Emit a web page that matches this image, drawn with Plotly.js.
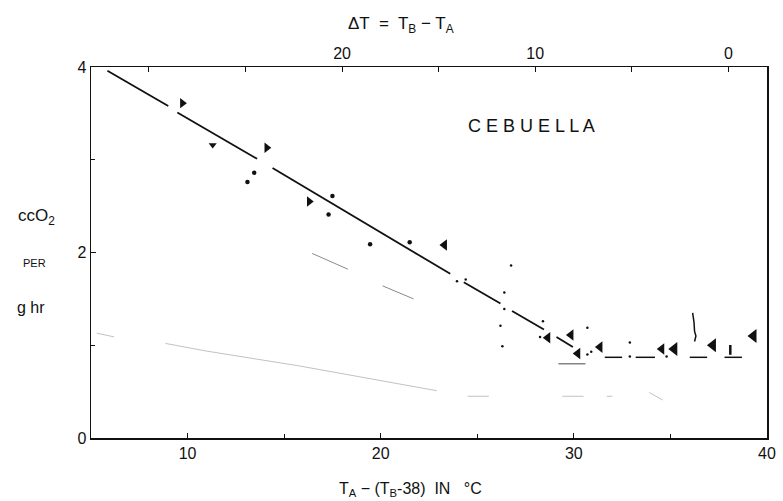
<!DOCTYPE html>
<html>
<head>
<meta charset="utf-8">
<script src="https://cdn.plot.ly/plotly-3.0.1.min.js"></script>
<style>html,body{margin:0;padding:0;background:#fff;}#chart{width:783px;height:501px;}</style>
</head>
<body>
<div id="chart"></div>
<script>
// Regression line (solid, with gaps in the original drawing)
const fitX = [5.85, 9.0, null, 9.47, 13.6, null, 14.4, 23.6, null, 24.3, 26.2, null, 26.8, 28.45, null, 29.1, 29.95];
const fitY = [3.96, 3.58, null, 3.51, 3.01, null, 2.91, 1.77, null, 1.68, 1.45, null, 1.37, 1.17, null, 1.09, 0.98];

// Horizontal dashed line (thermoneutral level)
const flatX = [31.6, 32.5, null, 33.2, 34.2, null, 36.0, 36.9, null, 37.8, 38.7];
const flatY = [0.87, 0.87, null, 0.87, 0.87, null, 0.87, 0.87, null, 0.87, 0.87];
const lowBarX = [29.2, 30.6];
const lowBarY = [0.80, 0.80];

// Faint grey lines (other curves, barely visible in the scan)
const greyUpX = [16.45, 18.3, null, 20.1, 21.7];
const greyUpY = [1.99, 1.82, null, 1.64, 1.50];
const greyLowX = [5.3, 6.2, null, 8.85, 10.9, 13.6, 15.7, 18.9, 21.0, 22.9, null, 24.5, 25.6, null, 29.4, 30.5, null, 31.7, 32.0, null, 33.9, 34.6];
const greyLowY = [1.13, 1.09, null, 1.02, 0.94, 0.85, 0.78, 0.66, 0.58, 0.51, null, 0.45, 0.45, null, 0.45, 0.45, null, 0.45, 0.45, null, 0.49, 0.41];

// Data points
const triRightX = [9.73, 14.1, 16.3];
const triRightY = [3.61, 3.13, 2.55];
const triLeftX = [23.3, 28.65, 29.85, 30.2, 31.35, 34.55];
const triLeftY = [2.08, 1.08, 1.11, 0.91, 0.98, 0.96];
const blobX = [35.2, 37.2, 39.3];
const blobY = [0.96, 1.00, 1.10];
const dotX = [13.45, 13.1, 17.5, 17.3, 19.45, 21.5];
const dotY = [2.86, 2.76, 2.61, 2.41, 2.09, 2.11];
const tinyX = [23.95, 24.4, 26.75, 26.4, 26.4, 26.2, 26.3, 28.4, 28.25, 30.7, 30.7, 30.9, 32.9, 32.9, 34.8];
const tinyY = [1.69, 1.71, 1.86, 1.57, 1.39, 1.21, 0.99, 1.26, 1.09, 1.19, 0.90, 0.93, 1.03, 0.88, 0.88];
const chevronX = [11.3];
const chevronY = [3.16];
const tickMarkX = [38.1];
const tickMarkY = [0.95];
const squiggleX = [36.15, 36.22, 36.25, 36.32, 36.25];
const squiggleY = [1.35, 1.25, 1.15, 1.10, 1.04];

// Axis ticks
const xTickVals = [10, 20, 30, 40];
const xTickText = ['10', '20', '30', '40'];
const dTickVals = [20, 10, 0];
const dTickText = ['20', '10', '0'];
const yTickVals = [0, 2, 4];
const yTickText = ['0', '2', '4'];

const ink = '#111';
const traces = [
  {x: greyLowX, y: greyLowY, mode: 'lines', line: {color: '#c2c2c2', width: 1}, hoverinfo: 'skip'},
  {x: greyUpX, y: greyUpY, mode: 'lines', line: {color: '#8a8a8a', width: 1}, hoverinfo: 'skip'},
  {x: fitX, y: fitY, mode: 'lines', line: {color: ink, width: 1.8}, connectgaps: false},
  {x: flatX, y: flatY, mode: 'lines', line: {color: ink, width: 1.5}, connectgaps: false},
  {x: lowBarX, y: lowBarY, mode: 'lines', line: {color: '#666', width: 1.2}},
  {x: squiggleX, y: squiggleY, mode: 'lines', line: {color: ink, width: 1.5}},
  {x: triRightX, y: triRightY, mode: 'markers', marker: {symbol: 'triangle-right', size: 9, color: ink}},
  {x: triLeftX, y: triLeftY, mode: 'markers', marker: {symbol: 'triangle-left', size: 10, color: ink}},
  {x: blobX, y: blobY, mode: 'markers', marker: {symbol: 'triangle-left', size: 12, color: ink}},
  {x: dotX, y: dotY, mode: 'markers', marker: {symbol: 'circle', size: 4.5, color: ink}},
  {x: tinyX, y: tinyY, mode: 'markers', marker: {symbol: 'circle', size: 2.5, color: ink}},
  {x: chevronX, y: chevronY, mode: 'markers', marker: {symbol: 'triangle-down', size: 7, color: ink}},
  {x: tickMarkX, y: tickMarkY, mode: 'markers', marker: {symbol: 'line-ns', size: 7, line: {color: ink, width: 2.5}}},
  // invisible trace to anchor the top (ΔT) axis
  {x: [0], y: [-1], xaxis: 'x2', mode: 'markers', marker: {opacity: 0}, hoverinfo: 'skip'}
];

const fontFam = '"Liberation Sans", Arial, sans-serif';
const tickStyle = {ticks: 'inside', ticklen: 5, tickcolor: ink, tickwidth: 1};
const layout = {
  width: 783, height: 501,
  margin: {l: 91, r: 16, t: 67, b: 63},
  paper_bgcolor: '#fff', plot_bgcolor: '#fff',
  showlegend: false,
  font: {family: fontFam, color: ink, size: 16},
  xaxis: Object.assign({
    range: [5, 40], tickmode: 'array', tickvals: xTickVals, ticktext: xTickText,
    minor: {dtick: 5, tick0: 0, ticks: 'inside', ticklen: 4, tickcolor: ink, tickwidth: 1},
    showline: true, linecolor: ink, linewidth: 1.5,
    showgrid: false, zeroline: false, tickfont: {size: 16}
  }, tickStyle),
  xaxis2: Object.assign({
    overlaying: 'x', side: 'top', anchor: 'y', range: [33, -2],
    tickmode: 'array', tickvals: dTickVals, ticktext: dTickText,
    minor: {dtick: 5, tick0: 0, ticks: 'inside', ticklen: 5, tickcolor: ink, tickwidth: 1},
    showline: true, linecolor: ink, linewidth: 1.5,
    showgrid: false, zeroline: false, tickfont: {size: 16}
  }, tickStyle),
  yaxis: Object.assign({
    range: [0, 4], tickmode: 'array', tickvals: yTickVals, ticktext: yTickText,
    minor: {dtick: 1, tick0: 0, ticks: 'inside', ticklen: 4, tickcolor: ink, tickwidth: 1},
    showline: true, mirror: true, linecolor: ink, linewidth: 1.5,
    showgrid: false, zeroline: false, tickfont: {size: 16}
  }, tickStyle),
  annotations: [
    {text: 'ΔT  =  T<sub>B</sub> − T<sub>A</sub>', xref: 'paper', yref: 'paper', x: 0.459, y: 1.113, showarrow: false, font: {size: 17}, xanchor: 'center', yanchor: 'middle'},
    {text: 'T<sub>A</sub> − (T<sub>B</sub>-38)  IN   °C', xref: 'paper', yref: 'paper', x: 0.472, y: -0.14, showarrow: false, font: {size: 16}, xanchor: 'center', yanchor: 'middle'},
    {text: 'ccO<sub>2</sub>', xref: 'paper', yref: 'paper', x: -0.080, y: 0.596, showarrow: false, font: {size: 17}, xanchor: 'center', yanchor: 'middle'},
    {text: 'PER', xref: 'paper', yref: 'paper', x: -0.083, y: 0.472, showarrow: false, font: {size: 11}, xanchor: 'center', yanchor: 'middle'},
    {text: 'g hr', xref: 'paper', yref: 'paper', x: -0.089, y: 0.353, showarrow: false, font: {size: 16}, xanchor: 'center', yanchor: 'middle'},
    {text: 'C E B U E L L A', xref: 'paper', yref: 'paper', x: 0.652, y: 0.841, showarrow: false, font: {size: 18}, xanchor: 'center', yanchor: 'middle'}
  ]
};

Plotly.newPlot('chart', traces, layout, {staticPlot: true, displayModeBar: false});
</script>
</body>
</html>
